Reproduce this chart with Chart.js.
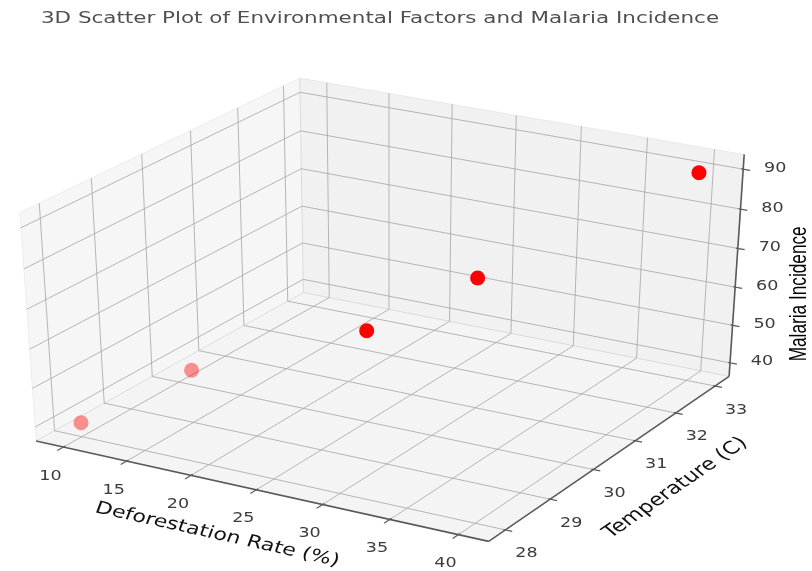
<!DOCTYPE html>
<html>
<head>
<meta charset="utf-8">
<script src="https://cdn.jsdelivr.net/npm/chart.js@4.4.1/dist/chart.umd.min.js"></script>
<style>
  html, body { margin: 0; padding: 0; background: #fff; }
  #wrap { width: 812px; height: 571px; }
</style>
</head>
<body>
<div id="wrap"><canvas id="chart" width="812" height="571"></canvas></div>
<script>
// data
const deforestation = [10, 15, 25, 30, 40]
const temperature = [28, 29, 30, 31, 33]
const incidence = [40, 50, 60, 70, 90]

const xTicks = [10, 15, 20, 25, 30, 35, 40]
const yTicks = [28, 29, 30, 31, 32, 33]
const zTicks = [40, 50, 60, 70, 80, 90]

const titleText = '3D Scatter Plot of Environmental Factors and Malaria Incidence'
const xLabel = 'Deforestation Rate (%)'
const yLabel = 'Temperature (C)'
const zLabel = 'Malaria Incidence'

// where the corners of the unit box sit on the canvas: [u, v, w] -> [px, py]
const boxCorners = [
  [[0, 0, 0], [29, 446]],
  [[1, 0, 0], [490, 548]],
  [[1, 1, 0], [735, 379]],
  [[1, 1, 1], [751, 151]],
  [[0, 1, 0], [302, 292]],
  [[0, 1, 1], [297, 73]],
  [[0, 0, 1], [13, 210]]
]

// least squares camera matrix (3x4, last entry fixed to 1)
function fitCamera(pairs) {
  const A = []
  const b = []
  for (const [[X, Y, Z], [x, y]] of pairs) {
    A.push([X, Y, Z, 1, 0, 0, 0, 0, -x * X, -x * Y, -x * Z])
    b.push(x)
    A.push([0, 0, 0, 0, X, Y, Z, 1, -y * X, -y * Y, -y * Z])
    b.push(y)
  }
  const n = 11
  const M = []
  for (let i = 0; i < n; i++) {
    const row = new Array(n + 1).fill(0)
    for (let k = 0; k < A.length; k++) {
      for (let j = 0; j < n; j++) row[j] += A[k][i] * A[k][j]
      row[n] += A[k][i] * b[k]
    }
    M.push(row)
  }
  for (let c = 0; c < n; c++) {
    let p = c
    for (let r = c + 1; r < n; r++) if (Math.abs(M[r][c]) > Math.abs(M[p][c])) p = r
    const tmp = M[c]; M[c] = M[p]; M[p] = tmp
    for (let r = 0; r < n; r++) {
      if (r === c) continue
      const f = M[r][c] / M[c][c]
      for (let k = c; k <= n; k++) M[r][k] -= f * M[c][k]
    }
  }
  return M.map((row, i) => row[n] / row[i])
}

const cam = fitCamera(boxCorners)

function project(u, v, w) {
  const d = cam[8] * u + cam[9] * v + cam[10] * w + 1
  return {
    x: (cam[0] * u + cam[1] * v + cam[2] * w + cam[3]) / d,
    y: (cam[4] * u + cam[5] * v + cam[6] * w + cam[7]) / d
  }
}

// matplotlib style limits: 5% margin, then panes pushed out by 1/48 of the span
function paddedLimits(vals) {
  let lo = Math.min(...vals)
  let hi = Math.max(...vals)
  const m = (hi - lo) * 0.05
  lo -= m
  hi += m
  const pad = (hi - lo) / 48
  return [lo - pad, hi + pad]
}
const xLim = paddedLimits(deforestation)
const yLim = paddedLimits(temperature)
const zLim = paddedLimits(incidence)
const norm = (val, lim) => (val - lim[0]) / (lim[1] - lim[0])

const points = deforestation.map((d, i) => {
  const p = project(norm(d, xLim), norm(temperature[i], yLim), norm(incidence[i], zLim))
  return { x: p.x, y: p.y }
})

// depth shading: farther points get faded
const view = [0.433, -0.75, 0.5]
const depths = deforestation.map((d, i) =>
  view[0] * norm(d, xLim) + view[1] * norm(temperature[i], yLim) + view[2] * norm(incidence[i], zLim))
const dMin = Math.min(...depths)
const dMax = Math.max(...depths)
const pointColors = depths.map(d => {
  const t = (d - dMin) / (dMax - dMin)
  const a = Math.max(0.42, Math.min(1, 0.42 + (t - 0.15) * 2))
  return 'rgba(255, 0, 0, ' + a.toFixed(2) + ')'
})

// the reference is stretched wider than it is tall, so the text is too
const STRETCH = 1.3
function drawText(ctx, text, x, y, angleDeg, font, color) {
  const a = Math.atan(Math.tan((angleDeg * Math.PI) / 180) * STRETCH)
  ctx.save()
  ctx.translate(x, y)
  ctx.scale(STRETCH, 1)
  ctx.rotate(a)
  ctx.font = font
  ctx.fillStyle = color
  ctx.textAlign = 'center'
  ctx.textBaseline = 'middle'
  ctx.fillText(text, 0, 0)
  ctx.restore()
}

// upright label reading bottom to top, in a condensed face
function drawVertical(ctx, text, x, y, font, color) {
  ctx.save()
  ctx.translate(x, y)
  ctx.scale(1.12, 0.82)
  ctx.rotate(-Math.PI / 2)
  ctx.font = font
  ctx.fillStyle = color
  ctx.textAlign = 'center'
  ctx.textBaseline = 'middle'
  ctx.fillText(text, 0, 0)
  ctx.restore()
}

const box3d = {
  id: 'box3d',
  beforeDatasetsDraw(chart) {
    const ctx = chart.ctx
    const sx = chart.scales.x
    const sy = chart.scales.y
    const P = (u, v, w) => {
      const p = project(u, v, w)
      return [sx.getPixelForValue(p.x), sy.getPixelForValue(p.y)]
    }
    const poly = (pts, fill) => {
      ctx.beginPath()
      pts.forEach((q, i) => (i ? ctx.lineTo(q[0], q[1]) : ctx.moveTo(q[0], q[1])))
      ctx.closePath()
      ctx.fillStyle = fill
      ctx.fill()
      ctx.strokeStyle = 'rgba(0, 0, 0, 0.06)'
      ctx.lineWidth = 1
      ctx.stroke()
    }
    const path = (pts, color, width) => {
      ctx.beginPath()
      pts.forEach((q, i) => (i ? ctx.lineTo(q[0], q[1]) : ctx.moveTo(q[0], q[1])))
      ctx.strokeStyle = color
      ctx.lineWidth = width
      ctx.stroke()
    }

    ctx.save()
    // panes
    poly([P(0, 0, 0), P(0, 1, 0), P(0, 1, 1), P(0, 0, 1)], 'rgba(0, 0, 0, 0.035)')
    poly([P(0, 1, 0), P(1, 1, 0), P(1, 1, 1), P(0, 1, 1)], 'rgba(0, 0, 0, 0.055)')
    poly([P(0, 0, 0), P(1, 0, 0), P(1, 1, 0), P(0, 1, 0)], 'rgba(0, 0, 0, 0.045)')

    // grid
    const grid = 'rgba(165, 165, 165, 0.8)'
    xTicks.forEach(t => {
      const u = norm(t, xLim)
      path([P(u, 0, 0), P(u, 1, 0), P(u, 1, 1)], grid, 1)
    })
    yTicks.forEach(t => {
      const v = norm(t, yLim)
      path([P(1, v, 0), P(0, v, 0), P(0, v, 1)], grid, 1)
    })
    zTicks.forEach(t => {
      const w = norm(t, zLim)
      path([P(0, 0, w), P(0, 1, w), P(1, 1, w)], grid, 1)
    })

    // axis lines
    const axisColor = '#5a5a5a'
    path([P(0, 0, 0), P(1, 0, 0)], axisColor, 1.6)
    path([P(1, 0, 0), P(1, 1, 0)], axisColor, 1.6)
    path([P(1, 1, 0), P(1, 1, 1)], axisColor, 1.6)

    const tick = (a, b) => {
      const dx = b[0] - a[0]
      const dy = b[1] - a[1]
      const len = Math.hypot(dx, dy)
      const ux = dx / len
      const uy = dy / len
      path([[a[0] - ux * 2, a[1] - uy * 2], [a[0] + ux * 7, a[1] + uy * 7]], axisColor, 1.2)
    }
    const tickFont = '13.5px "DejaVu Sans"'
    const tickColor = '#3c3c3c'
    xTicks.forEach(t => {
      const u = norm(t, xLim)
      const a = P(u, 0, 0)
      tick(a, P(u, -0.1, 0))
      drawText(ctx, String(t), a[0] - 13, a[1] + 29, 0, tickFont, tickColor)
    })
    yTicks.forEach(t => {
      const v = norm(t, yLim)
      const a = P(1, v, 0)
      tick(a, P(1.1, v, 0))
      drawText(ctx, String(t), a[0] + 21, a[1] + 24, 0, tickFont, tickColor)
    })
    zTicks.forEach(t => {
      const w = norm(t, zLim)
      const a = P(1, 1, w)
      tick(a, P(1.1, 1, w))
      drawText(ctx, String(t), a[0] + 32, a[1] - 1, 0, tickFont, tickColor)
    })

    // axis titles
    const ang = (a, b) => (Math.atan2(b[1] - a[1], b[0] - a[0]) * 180) / Math.PI
    const xm = P(0.5, 0, 0)
    drawText(ctx, xLabel, xm[0] - 39, xm[1] + 45, ang(P(0, 0, 0), P(1, 0, 0)), '17px "DejaVu Sans"', '#111')
    const ym = P(1, 0.5, 0)
    drawText(ctx, yLabel, ym[0] + 61, ym[1] + 33, ang(P(1, 0, 0), P(1, 1, 0)), '17.5px "DejaVu Sans"', '#111')
    const zm = P(1, 1, 0.5)
    drawVertical(ctx, zLabel, zm[0] + 63, zm[1] + 26, '21px "Liberation Sans"', '#000')

    // title
    drawText(ctx, titleText, 380, 19, 0, '16.5px "DejaVu Sans"', '#505050')
    ctx.restore()
  }
}

new Chart(document.getElementById('chart').getContext('2d'), {
  type: 'scatter',
  data: {
    datasets: [{
      label: 'Malaria Incidence',
      data: points,
      pointRadius: 7.5,
      pointHoverRadius: 7.5,
      pointBorderWidth: 0,
      pointBackgroundColor: pointColors
    }]
  },
  options: {
    responsive: false,
    animation: false,
    events: [],
    layout: { padding: 0 },
    plugins: {
      legend: { display: false },
      tooltip: { enabled: false }
    },
    scales: {
      x: { type: 'linear', min: 0, max: 812, display: false },
      y: { type: 'linear', min: 0, max: 571, reverse: true, display: false }
    }
  },
  plugins: [box3d]
})
</script>
</body>
</html>
